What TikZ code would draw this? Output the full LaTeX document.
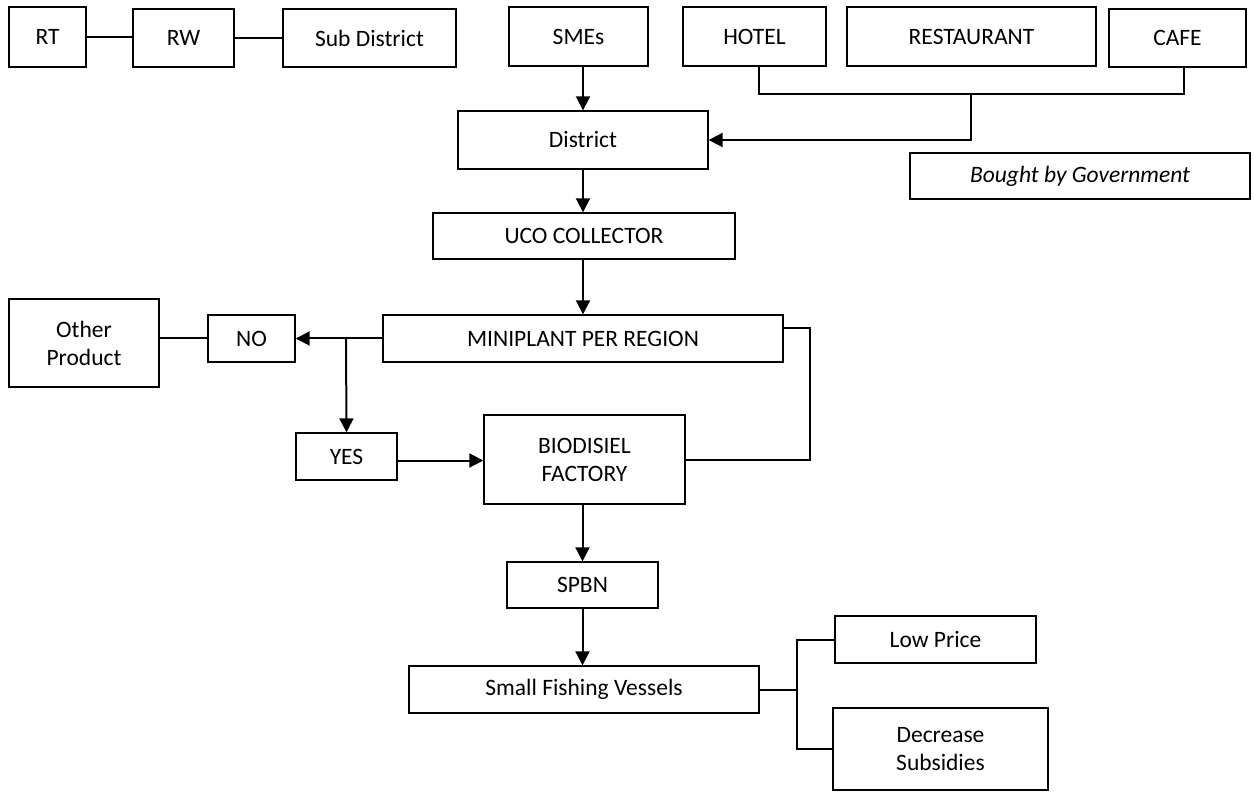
\documentclass[tikz,border=0pt]{standalone}
\usepackage{fontspec}
\setmainfont{Carlito}
\usetikzlibrary{arrows.meta,calc}
\begin{document}
\begin{tikzpicture}[x=1pt,y=-1pt,
  box/.style={draw,line width=1.4pt,inner sep=0pt,align=center,font=\fontsize{23.5}{28}\selectfont},
  ln/.style={line width=2pt},
  arr/.style={line width=2pt,-{Triangle[length=14pt,width=14pt]}}]
\useasboundingbox (0,0) rectangle (1254,794);
\node[box,minimum width=77,minimum height=60] (RT) at (47.5,37) {RT};
\node[box,minimum width=101,minimum height=58] (RW) at (183.5,38) {RW};
\node[box,minimum width=173,minimum height=58] (SD) at (369.5,38) {Sub District};
\node[box,minimum width=139,minimum height=59] (SME) at (578.5,36.5) {SMEs};
\node[box,minimum width=143,minimum height=59] (HOT) at (754.5,36.5) {HOTEL};
\node[box,minimum width=249,minimum height=59] (RES) at (971.5,36.5) {RESTAURANT};
\node[box,minimum width=137,minimum height=58] (CAF) at (1177.5,38) {CAFE};
\node[box,minimum width=250,minimum height=58] (DIS) at (583,140) {District};
\node[box,minimum width=340,minimum height=46,font=\fontsize{23.5}{28}\selectfont\itshape] (BG) at (1080,176) {Bought by Government};
\node[box,minimum width=302,minimum height=46] (UCO) at (584,236) {UCO COLLECTOR};
\node[box,minimum width=400,minimum height=47] (MIN) at (583,338.5) {MINIPLANT PER REGION};
\node[box,minimum width=150,minimum height=88] (OTH) at (84,343) {Other\\Product};
\node[box,minimum width=87,minimum height=47] (NO) at (251.5,338.5) {NO};
\node[box,minimum width=101,minimum height=47] (YES) at (346.5,456.5) {YES};
\node[box,minimum width=201,minimum height=89] (BIO) at (584.5,459.5) {BIODISIEL\\FACTORY};
\node[box,minimum width=151,minimum height=46] (SPB) at (582.5,585) {SPBN};
\node[box,minimum width=350,minimum height=47] (SFV) at (584,689.5) {Small Fishing Vessels};
\node[box,minimum width=201,minimum height=47] (LP) at (935.5,639.5) {Low Price};
\node[box,minimum width=215,minimum height=82] (DEC) at (940.5,749) {Decrease\\Subsidies};
\coordinate (jt) at (971,93);
\coordinate (jb) at (346,338.5);
\coordinate (jf) at (797,690);
% top row
\draw[ln] (RT.east) -- (RT.east -| RW.west);
\draw[ln] (RW.east) -- (SD.west);
\draw[arr] (DIS.north |- SME.south) -- (DIS.north);
\draw[ln] ([xshift=4.5pt]HOT.south) -- ++(0,27) -| ([xshift=6.5pt]CAF.south);
\draw[arr] (jt) |- (DIS.east);
% main chain
\draw[arr] (DIS.south) -- (DIS.south |- UCO.north);
\draw[arr] (UCO.south -| MIN.north) -- (MIN.north);
\draw[arr] (MIN.west) -- (NO.east);
\draw[ln] (NO.west) -- (NO.west -| OTH.east);
\draw[arr] (jb) -- (YES.north);
\draw[arr] ([yshift=-4pt]YES.east) -- ([yshift=-4pt]YES.east -| BIO.west);
\draw[ln] ([yshift=10pt]MIN.east) -- ++(26,0) |- (BIO.east);
\draw[arr] (SPB.north |- BIO.south) -- (SPB.north);
\draw[arr] (SPB.south) -- (SPB.south |- SFV.north);
\draw[ln] (SFV.east) -- (SFV.east -| jf);
\draw[ln] (LP.west) -| (jf) |- (DEC.west);
\end{tikzpicture}
\end{document}
